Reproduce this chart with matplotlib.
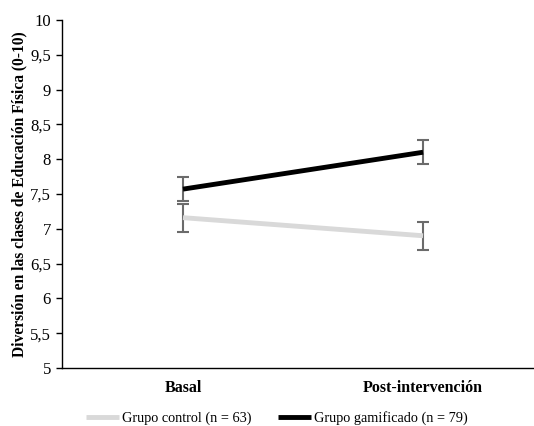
import matplotlib
matplotlib.use("Agg")
import matplotlib.pyplot as plt

categories = ["Basal", "Post-intervención"]
control_mean = [7.16, 6.90]
control_err = [0.20, 0.20]
gamif_mean = [7.57, 8.10]
gamif_err = [0.17, 0.17]
yticks = [5, 5.5, 6, 6.5, 7, 7.5, 8, 8.5, 9, 9.5, 10]
ytick_labels = ["5", "5,5", "6", "6,5", "7", "7,5", "8", "8,5", "9", "9,5", "10"]

plt.rcParams['font.family'] = ['Liberation Serif', 'DejaVu Serif']

fig = plt.figure(figsize=(5.34, 4.26), dpi=100)
W, H = 534, 426
ax = fig.add_axes([62 / W, 1 - 368 / H, (533 - 62) / W, (368 - 20) / H])

x = list(range(len(categories)))
ax.errorbar(x, control_mean, yerr=control_err, fmt='none', ecolor='#6b6b6b',
            elinewidth=1.5, capsize=4, capthick=1.5, zorder=2)
ax.errorbar(x, gamif_mean, yerr=gamif_err, fmt='none', ecolor='#6b6b6b',
            elinewidth=1.5, capsize=4, capthick=1.5, zorder=2)
ax.plot(x, control_mean, color='#d9d9d9', lw=3.5, solid_capstyle='butt',
        label='Grupo control (n = 63)', zorder=3)
ax.plot(x, gamif_mean, color='black', lw=3.5, solid_capstyle='butt',
        label='Grupo gamificado (n = 79)', zorder=4)

ax.set_xlim(-0.504, 1.458)
ax.set_ylim(5, 10)
ax.set_yticks(yticks)
ax.set_yticklabels(ytick_labels, fontsize=12)
ax.set_xticks(x)
ax.set_xticklabels(categories, fontsize=11.5, fontweight='bold')
ax.tick_params(axis='x', length=0, pad=9)
ax.tick_params(axis='y', length=4, width=1, direction='out', pad=4)
for s in ['top', 'right']:
    ax.spines[s].set_visible(False)
ax.spines['left'].set_linewidth(1)
ax.spines['bottom'].set_linewidth(1)

ax.set_ylabel('Diversión en las clases de Educación Física (0-10)', fontsize=11.2,
              fontweight='bold', labelpad=2)

fig.legend(loc='center', bbox_to_anchor=(277 / W, 1 - 418 / H), ncol=2, frameon=False,
           fontsize=10.3, handlelength=2.3, handletextpad=0.2, columnspacing=1.9)

fig.savefig('out.png', dpi=100)
